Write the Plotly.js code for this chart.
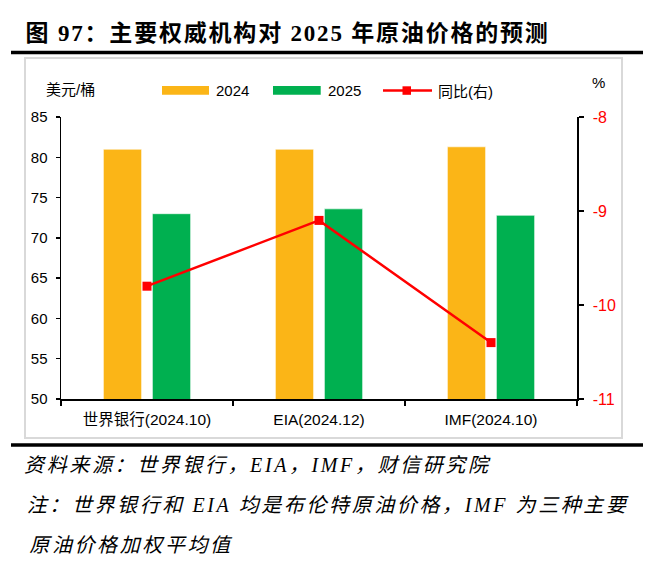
<!DOCTYPE html>
<html>
<head>
<meta charset="utf-8">
<script src="https://cdn.plot.ly/plotly-3.0.1.min.js"></script>
<style>
  html, body { margin: 0; padding: 0; background: #fff; }
  #chart { width: 658px; height: 573px; }
</style>
</head>
<body>
<div id="chart"></div>
<script>
// ---- data ----
const categories = ['世界银行(2024.10)', 'EIA(2024.12)', 'IMF(2024.10)'];
const price2024 = [81.0, 81.0, 81.3];
const price2025 = [73.0, 73.6, 72.8];
const yoyPct = [-9.8, -9.1, -10.4];
const seriesNames = ['2024', '2025', '同比(右)'];
const leftTicks = [50, 55, 60, 65, 70, 75, 80, 85];
const rightTicks = [-11, -10, -9, -8];

// ---- style ----
const ORANGE = '#FBB517';
const GREEN = '#00B050';
const RED = '#FF0000';
const SANS = '"Liberation Sans", Arial, "Noto Sans CJK SC", sans-serif';
const SERIF = '"Liberation Serif", "Times New Roman", "Noto Sans CJK SC", serif';

const W = 658, H = 573;
const L = 61, R = 81, T = 117, B = 174;
const pw = W - L - R, ph = H - T - B;
const px = v => (v - L) / pw;            // pixel x -> paper x
const py = v => (H - B - v) / ph;        // pixel y -> paper y

const traces = [
  {
    type: 'bar', name: seriesNames[0], x: categories, y: price2024,
    marker: { color: ORANGE, line: { color: '#ffffff', width: 0.6 } },
    showlegend: false, hoverinfo: 'skip'
  },
  {
    type: 'bar', name: seriesNames[1], x: categories, y: price2025,
    marker: { color: GREEN, line: { color: '#ffffff', width: 0.6 } },
    showlegend: false, hoverinfo: 'skip'
  },
  {
    type: 'scatter', mode: 'lines+markers', name: seriesNames[2],
    x: categories, y: yoyPct, yaxis: 'y2',
    line: { color: RED, width: 2.5 },
    marker: { color: RED, symbol: 'square', size: 9 },
    showlegend: false, hoverinfo: 'skip'
  }
];

const shapes = [
  // outer light frame
  { type: 'rect', xref: 'paper', yref: 'paper', x0: px(25), x1: px(622), y0: py(438), y1: py(58),
    line: { color: '#d9d9d9', width: 2 }, fillcolor: 'rgba(0,0,0,0)', layer: 'below' },
  // thick rules
  { type: 'line', xref: 'paper', yref: 'paper', x0: px(11), x1: px(643), y0: py(52.5), y1: py(52.5),
    line: { color: '#000', width: 3.5 } },
  { type: 'line', xref: 'paper', yref: 'paper', x0: px(11), x1: px(643), y0: py(445), y1: py(445),
    line: { color: '#000', width: 3.5 } },
  // legend swatches
  { type: 'rect', xref: 'paper', yref: 'paper', x0: px(162), x1: px(209), y0: py(94.7), y1: py(86),
    line: { width: 0 }, fillcolor: ORANGE },
  { type: 'rect', xref: 'paper', yref: 'paper', x0: px(273), x1: px(320.7), y0: py(94.7), y1: py(86),
    line: { width: 0 }, fillcolor: GREEN },
  { type: 'line', xref: 'paper', yref: 'paper', x0: px(383), x1: px(432), y0: py(90.5), y1: py(90.5),
    line: { color: RED, width: 2.5 } },
  { type: 'rect', xref: 'paper', yref: 'paper', x0: px(402.5), x1: px(411), y0: py(94.8), y1: py(86.3),
    line: { width: 0 }, fillcolor: RED }
];

const ann = (text, x, y, opts) => Object.assign({
  text, x, y, xref: 'paper', yref: 'paper', showarrow: false,
  xanchor: 'left', yanchor: 'middle', font: { family: SANS, size: 15, color: '#000' }
}, opts || {});

const TITLE = '图 97：主要权威机构对 2025 年原油价格的预测';
const NOTE1 = '资料来源：世界银行，EIA，IMF，财信研究院';
const NOTE2 = '注：世界银行和 EIA 均是布伦特原油价格，IMF 为三种主要';
const NOTE3 = '原油价格加权平均值';

const annotations = [
  ann('<b>' + TITLE + '</b>', px(287), py(33),
      { xanchor: 'center', font: { family: SERIF, size: 23, color: '#000' } }),
  ann('美元/桶', px(70), py(89), { xanchor: 'center' }),
  ann('%', px(598), py(83), { xanchor: 'center' }),
  ann(seriesNames[0], px(214), py(90.5)),
  ann(seriesNames[1], px(325.5), py(90.5)),
  ann(seriesNames[2], px(436), py(92)),
  ann('<i>' + NOTE1 + '</i>', px(259), py(465),
      { xanchor: 'center', font: { family: SERIF, size: 20, color: '#000' } }),
  ann('<i>' + NOTE2 + '</i>', px(329), py(505),
      { xanchor: 'center', font: { family: SERIF, size: 20, color: '#000' } }),
  ann('<i>' + NOTE3 + '</i>', px(132), py(545),
      { xanchor: 'center', font: { family: SERIF, size: 20, color: '#000' } })
];

const layout = {
  width: W, height: H,
  margin: { l: L, r: R, t: T, b: B, pad: 0 },
  paper_bgcolor: '#fff', plot_bgcolor: '#fff',
  font: { family: SANS, size: 15, color: '#000' },
  barmode: 'group', bargap: 0.43, bargroupgap: 0.22,
  showlegend: false,
  xaxis: {
    type: 'category', showgrid: false, zeroline: false,
    showline: true, linecolor: '#000', linewidth: 1.5,
    ticks: 'outside', tickson: 'boundaries', ticklen: 5, tickcolor: '#000', tickwidth: 1.5,
    ticklabelstandoff: 6,
    tickfont: { family: SANS, size: 15.5, color: '#000' }
  },
  yaxis: {
    range: [50, 85], tickvals: leftTicks, ticktext: leftTicks.map(String),
    showgrid: false, zeroline: false,
    showline: true, linecolor: '#000', linewidth: 1.5,
    ticks: 'outside', ticklen: 4, tickcolor: '#000', tickwidth: 1.5,
    ticklabelstandoff: 5,
    tickfont: { family: SANS, size: 15, color: '#000' }
  },
  yaxis2: {
    overlaying: 'y', side: 'right', range: [-11, -8],
    tickvals: rightTicks, ticktext: rightTicks.map(String),
    showgrid: false, zeroline: false,
    showline: true, linecolor: '#000', linewidth: 1.5,
    ticks: 'outside', ticklen: 5, tickcolor: '#000', tickwidth: 1.5,
    ticklabelstandoff: 6,
    tickfont: { family: SANS, size: 16, color: RED }
  },
  shapes, annotations
};

Plotly.newPlot('chart', traces, layout, { staticPlot: true, displayModeBar: false }).then(() => {
  // widen character spacing of the title and source notes to match the reference typesetting
  const spacing = new Map([[TITLE, '1.8px'], [NOTE1, '2.6px'], [NOTE2, '2.6px'], [NOTE3, '2.6px']]);
  document.querySelectorAll('#chart .annotation-text').forEach(t => {
    const s = spacing.get(t.textContent);
    if (s) t.style.letterSpacing = s;
  });
});
</script>
</body>
</html>
